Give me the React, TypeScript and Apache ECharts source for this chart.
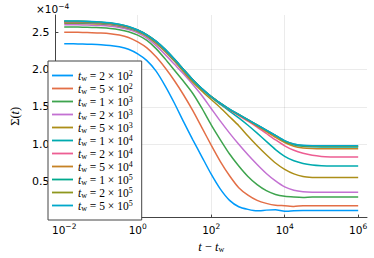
import React, { useEffect, useRef } from 'react';
import * as echarts from 'echarts';

// log10(t - t_w)
const logT = [-2, -1.75, -1.5, -1.25, -1, -0.75, -0.5, -0.25, 0, 0.25, 0.5, 0.75, 1, 1.25, 1.5, 1.75, 2, 2.25, 2.5, 2.75, 3, 3.25, 3.5, 3.75, 4, 4.25, 4.5, 4.75, 5, 5.25, 5.5, 5.75, 6];

// Sigma(t) in units of 1e-4
const sigma2e2 = [2.345, 2.344, 2.342, 2.338, 2.332, 2.322, 2.305, 2.272, 2.21, 2.12, 1.98, 1.78, 1.55, 1.30, 1.06, 0.83, 0.60, 0.40, 0.25, 0.165, 0.13, 0.11, 0.12, 0.125, 0.105, 0.112, 0.115, 0.114, 0.116, 0.115, 0.114, 0.115, 0.115];
const sigma5e2 = [2.50, 2.499, 2.497, 2.494, 2.489, 2.48, 2.463, 2.43, 2.37, 2.29, 2.17, 2.02, 1.85, 1.66, 1.45, 1.22, 0.99, 0.77, 0.58, 0.42, 0.32, 0.25, 0.21, 0.185, 0.18, 0.17, 0.18, 0.178, 0.18, 0.179, 0.18, 0.18, 0.18];
const sigma1e3 = [2.57, 2.569, 2.567, 2.564, 2.558, 2.549, 2.533, 2.505, 2.46, 2.39, 2.28, 2.14, 1.99, 1.84, 1.68, 1.48, 1.26, 1.06, 0.87, 0.71, 0.57, 0.46, 0.38, 0.33, 0.305, 0.295, 0.29, 0.295, 0.295, 0.294, 0.295, 0.295, 0.295];
const sigma2e3 = [2.60, 2.599, 2.597, 2.594, 2.588, 2.578, 2.562, 2.535, 2.49, 2.42, 2.32, 2.20, 2.07, 1.94, 1.80, 1.65, 1.48, 1.31, 1.15, 1.00, 0.86, 0.73, 0.61, 0.51, 0.43, 0.385, 0.365, 0.36, 0.36, 0.36, 0.36, 0.36, 0.36];
const sigma5e3 = [2.62, 2.619, 2.617, 2.614, 2.608, 2.598, 2.58, 2.553, 2.51, 2.445, 2.35, 2.24, 2.11, 1.97, 1.83, 1.71, 1.60, 1.49, 1.37, 1.25, 1.11, 0.98, 0.86, 0.75, 0.665, 0.605, 0.57, 0.558, 0.555, 0.555, 0.555, 0.555, 0.555];
const sigma1e4 = [2.63, 2.629, 2.627, 2.623, 2.616, 2.605, 2.586, 2.557, 2.52, 2.455, 2.365, 2.255, 2.125, 1.99, 1.855, 1.735, 1.627, 1.535, 1.445, 1.353, 1.255, 1.15, 1.04, 0.93, 0.84, 0.78, 0.745, 0.725, 0.715, 0.71, 0.71, 0.71, 0.71];
const sigma2e4 = [2.635, 2.634, 2.632, 2.628, 2.621, 2.61, 2.591, 2.562, 2.525, 2.46, 2.37, 2.262, 2.132, 1.995, 1.86, 1.74, 1.635, 1.545, 1.462, 1.385, 1.31, 1.23, 1.145, 1.06, 0.98, 0.92, 0.88, 0.853, 0.838, 0.832, 0.83, 0.83, 0.83];
const sigma5e4 = [2.64, 2.639, 2.637, 2.633, 2.626, 2.615, 2.596, 2.567, 2.527, 2.462, 2.375, 2.266, 2.136, 1.998, 1.862, 1.742, 1.637, 1.548, 1.467, 1.393, 1.32, 1.245, 1.17, 1.095, 1.025, 0.975, 0.952, 0.943, 0.94, 0.94, 0.94, 0.94, 0.94];
const sigma1e5 = [2.645, 2.644, 2.642, 2.638, 2.631, 2.62, 2.601, 2.571, 2.528, 2.464, 2.378, 2.268, 2.138, 1.999, 1.863, 1.743, 1.638, 1.549, 1.468, 1.398, 1.328, 1.258, 1.188, 1.118, 1.04, 0.995, 0.973, 0.967, 0.965, 0.965, 0.965, 0.965, 0.965];
const sigma2e5 = [2.648, 2.647, 2.645, 2.641, 2.634, 2.623, 2.603, 2.573, 2.529, 2.465, 2.379, 2.269, 2.139, 2.0, 1.864, 1.744, 1.639, 1.55, 1.469, 1.399, 1.329, 1.259, 1.189, 1.119, 1.045, 1.0, 0.98, 0.975, 0.975, 0.975, 0.975, 0.975, 0.975];
const sigma5e5 = [2.65, 2.649, 2.647, 2.643, 2.636, 2.625, 2.605, 2.575, 2.53, 2.465, 2.38, 2.27, 2.14, 2.0, 1.865, 1.745, 1.64, 1.55, 1.47, 1.40, 1.33, 1.26, 1.19, 1.12, 1.05, 1.005, 0.988, 0.982, 0.98, 0.98, 0.98, 0.98, 0.98];

const curves = [sigma2e2, sigma5e2, sigma1e3, sigma2e3, sigma5e3, sigma1e4, sigma2e4, sigma5e4, sigma1e5, sigma2e5, sigma5e5];
const twCoef = [2, 5, 1, 2, 5, 1, 2, 5, 1, 2, 5];
const twExp = [2, 2, 3, 3, 3, 4, 4, 4, 5, 5, 5];
const colors = ['#009AFA', '#E36F47', '#3EA44E', '#C371D2', '#AC8E18', '#00AAAE', '#ED5E93', '#C68225', '#00A98D', '#8E971E', '#00A8CB'];

const xTicks = [-2, 0, 2, 4, 6];
const yTicks = [0.5, 1.0, 1.5, 2.0, 2.5];

const SERIF = 'Liberation Serif';
const SANS = 'DejaVu Sans';

export default function App() {
  const ref = useRef<HTMLDivElement>(null);
  useEffect(() => {
    const chart = echarts.init(ref.current!, null, { renderer: 'svg' });
    const names = twCoef.map((c, i) => `tw = ${c} × 10^${twExp[i]}`);
    const series = curves.map((vals, i) => ({
      type: 'line',
      name: names[i],
      data: logT.map((x, j) => [x, vals[j]]),
      showSymbol: false,
      symbol: 'none',
      smooth: 0.2,
      lineStyle: { width: 1.5, color: colors[i] },
      itemStyle: { color: colors[i] },
      emphasis: { disabled: true },
    }));
    const mathRich = {
      i: { fontFamily: SERIF, fontStyle: 'italic', fontSize: 11.5, lineHeight: 13, color: '#000' },
      n: { fontFamily: SERIF, fontSize: 11.5, lineHeight: 13, color: '#000' },
      sub: { fontFamily: SERIF, fontSize: 8, lineHeight: 8, verticalAlign: 'bottom', color: '#000' },
      sup: { fontFamily: SERIF, fontSize: 8, lineHeight: 8, verticalAlign: 'top', color: '#000' },
    };
    const option = {
      animation: false,
      backgroundColor: '#fff',
      title: {
        text: '{a|×10}{s|−4}',
        left: 36,
        top: 2,
        padding: 0,
        textStyle: {
          fontWeight: 'normal',
          rich: {
            a: { fontFamily: SANS, fontSize: 10.5, fontWeight: 'normal', lineHeight: 13, color: '#000' },
            s: { fontFamily: SANS, fontSize: 7.5, fontWeight: 'normal', lineHeight: 8, verticalAlign: 'top', color: '#000' },
          },
        },
      },
      grid: { left: 37, right: 7, top: 15, bottom: 32 },
      xAxis: {
        type: 'value',
        min: -2.24,
        max: 6.24,
        name: '{i|t}{n| − }{i|t}{sub|w}',
        nameLocation: 'middle',
        nameGap: 19,
        nameTextStyle: { rich: { ...mathRich, i: { ...mathRich.i, fontSize: 12.5 }, n: { ...mathRich.n, fontSize: 12.5 } } },
        axisLine: { show: true, onZero: false, lineStyle: { color: '#444', width: 1 } },
        axisTick: { show: true, inside: true, length: 3, customValues: xTicks, lineStyle: { color: '#444' } },
        axisLabel: {
          customValues: xTicks,
          margin: 5,
          formatter: (v: number) => `{b|10}{s|${v < 0 ? '−' + Math.abs(v) : v}}`,
          rich: {
            b: { fontFamily: SANS, fontSize: 10.5, lineHeight: 14, color: '#000' },
            s: { fontFamily: SANS, fontSize: 7.5, lineHeight: 8, verticalAlign: 'top', color: '#000' },
          },
        },
        splitLine: { show: true, showMinLine: false, showMaxLine: false, lineStyle: { color: 'rgba(0,0,0,0.08)', width: 1 } },
      },
      yAxis: {
        type: 'value',
        min: 0.02,
        max: 2.73,
        name: '{n|Σ(}{i|t}{n|)}',
        nameLocation: 'middle',
        nameGap: 24,
        nameTextStyle: { rich: { ...mathRich, i: { ...mathRich.i, fontSize: 12.5 }, n: { ...mathRich.n, fontSize: 12.5 } } },
        axisLine: { show: true, onZero: false, lineStyle: { color: '#444', width: 1 } },
        axisTick: { show: true, inside: true, length: 3, customValues: yTicks, lineStyle: { color: '#444' } },
        axisLabel: {
          customValues: yTicks,
          margin: 6,
          formatter: (v: number) => v.toFixed(1),
          fontFamily: SANS,
          fontSize: 11,
          color: '#000',
        },
        splitLine: { show: true, showMinLine: false, showMaxLine: false, lineStyle: { color: 'rgba(0,0,0,0.08)', width: 1 } },
      },
      legend: {
        data: names.map((n, i) => ({ name: n, icon: 'rect', itemStyle: { color: colors[i] } })),
        orient: 'vertical',
        left: 48,
        top: 61,
        padding: [8, 9, 8, 4],
        itemGap: 0,
        itemWidth: 21,
        itemHeight: 1.8,
        backgroundColor: '#fff',
        borderColor: '#444',
        borderWidth: 1,
        borderRadius: 0,
        selectedMode: false,
        formatter: (name: string) => {
          const i = names.indexOf(name);
          return `{i|t}{sub|w}{n| = ${twCoef[i]} × 10}{sup|${twExp[i]}}`;
        },
        textStyle: { lineHeight: 13, rich: mathRich },
      },
      series,
    };
    chart.setOption(option as any);
    return () => chart.dispose();
  }, []);
  return <div ref={ref} style={{ position: 'fixed', left: 0, top: 0, width: 374, height: 258 }} />;
}
